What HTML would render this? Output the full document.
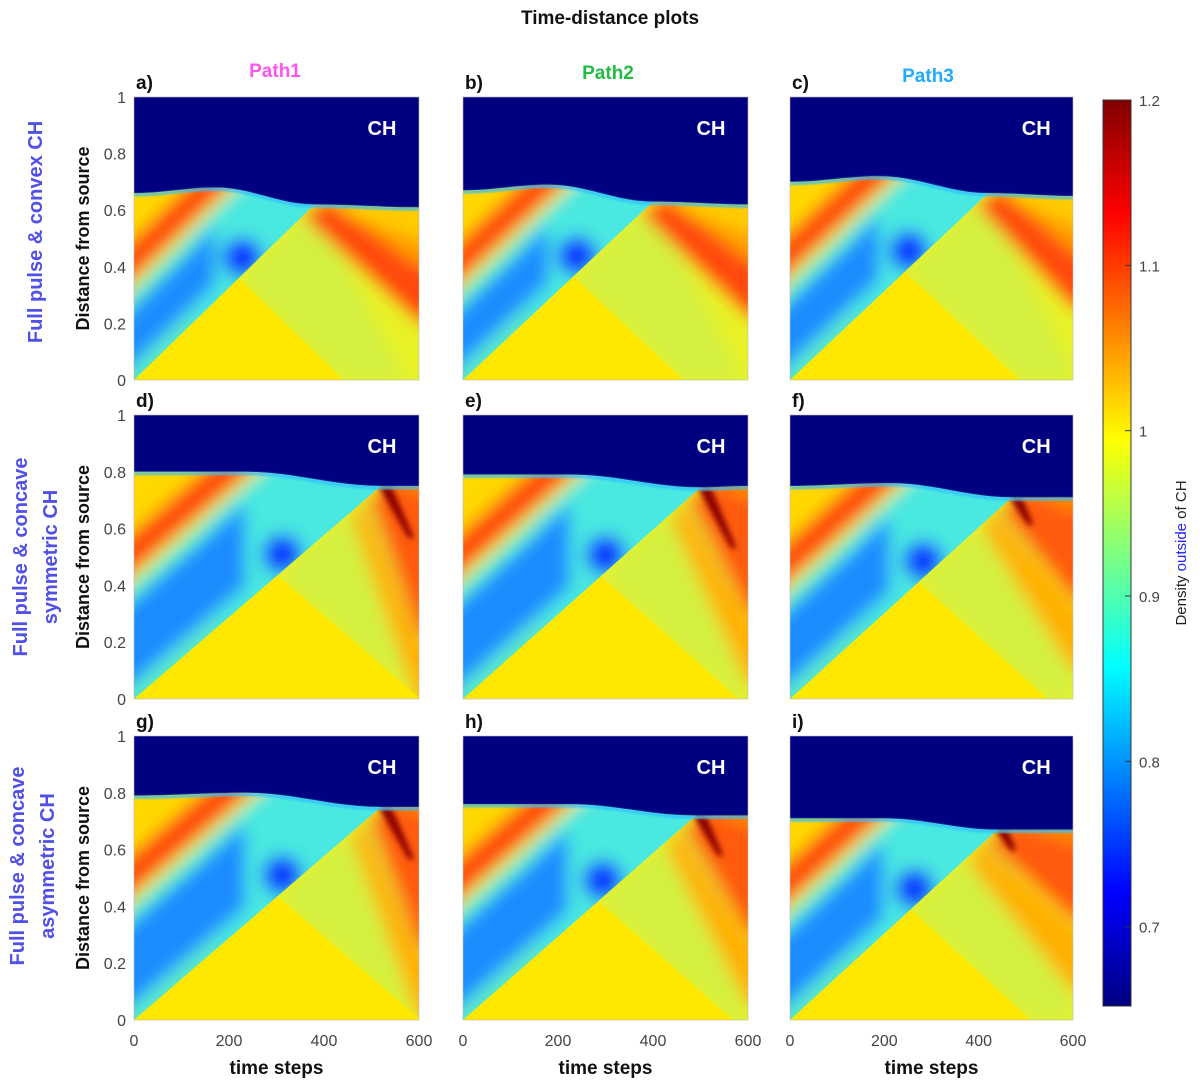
<!DOCTYPE html>
<html><head><meta charset="utf-8">
<style>
body{margin:0;background:#fff;}
svg text{font-family:"Liberation Sans",sans-serif;}
</style></head>
<body>
<svg id="fig" width="1200" height="1083" viewBox="0 0 1200 1083" xmlns="http://www.w3.org/2000/svg">
<defs>
<filter id="blur" x="-20%" y="-20%" width="140%" height="140%"><feGaussianBlur stdDeviation="8"/></filter>
<filter id="blurS" x="-20%" y="-20%" width="140%" height="140%"><feGaussianBlur stdDeviation="3"/></filter>
<filter id="blurE" x="-20%" y="-20%" width="140%" height="140%"><feGaussianBlur stdDeviation="1"/></filter>
<linearGradient id="jet" x1="0" y1="1" x2="0" y2="0">
<stop offset="0" stop-color="#000080"/><stop offset="0.125" stop-color="#0000ff"/>
<stop offset="0.375" stop-color="#00ffff"/><stop offset="0.625" stop-color="#ffff00"/>
<stop offset="0.875" stop-color="#ff0000"/><stop offset="1" stop-color="#800000"/>
</linearGradient>
</defs>
<text x="610" y="24" text-anchor="middle" font-size="19" font-weight="bold" fill="#111">Time-distance plots</text>
<text x="275" y="77" text-anchor="middle" font-size="19" font-weight="bold" fill="#ff55ee">Path1</text>
<text x="608" y="79" text-anchor="middle" font-size="19" font-weight="bold" fill="#22bb44">Path2</text>
<text x="928" y="82" text-anchor="middle" font-size="19" font-weight="bold" fill="#22aaff">Path3</text>
<text transform="translate(42,232) rotate(-90)" text-anchor="middle" font-size="20" font-weight="bold" fill="#5050e8">Full pulse &amp; convex CH</text>
<text transform="translate(27,557) rotate(-90)" text-anchor="middle" font-size="20" font-weight="bold" fill="#5050e8"><tspan x="0" y="0">Full pulse &amp; concave</tspan><tspan x="0" y="30">symmetric CH</tspan></text>
<text transform="translate(24,866) rotate(-90)" text-anchor="middle" font-size="20" font-weight="bold" fill="#5050e8"><tspan x="0" y="0">Full pulse &amp; concave</tspan><tspan x="0" y="30">asymmetric CH</tspan></text>
<g id="panels"></g>
<g id="cbar"></g>
</svg>
<script>
const NS='http://www.w3.org/2000/svg';
const panelIds=['a','b','c','d','e','f','g','h','i'];
const hLeft=[0.66,0.67,0.70,0.80,0.79,0.75,0.79,0.76,0.71];
const hBump=[0.68,0.69,0.72,0.80,0.79,0.76,0.80,0.76,0.71];
const hRight=[0.61,0.62,0.65,0.75,0.75,0.71,0.75,0.72,0.67];
const tCollide=[380,400,420,520,500,470,520,490,440];
const hCollide=[0.62,0.63,0.66,0.75,0.745,0.71,0.75,0.72,0.67];
const redU=[0.36,0.36,0.38,0.45,0.45,0.42,0.45,0.44,0.42];
const fanTop=[0.40,0.42,0.45,0.72,0.70,0.66,0.72,0.68,0.62];
const fanBottom=[0.20,0.22,0.25,0.22,0.30,0.35,0.25,0.30,0.35];
const streakLen=[0,0,0,80,90,40,80,60,30];
const xTicks=[0,200,400,600];
const yTicks=[0,0.2,0.4,0.6,0.8,1];
const cbTicks=[0.7,0.8,0.9,1,1.1,1.2];
const cbMin=0.652, cbMax=1.2;

const colX=[134,463,790], colW=[285,285,283];
const rowY=[97,415,736], rowH=[283,284,284];
const root=document.getElementById('panels');
function mk(tag,attrs,parent){const e=document.createElementNS(NS,tag);for(const k in attrs)e.setAttribute(k,attrs[k]);parent.appendChild(e);return e;}
function smooth(pts){const out=[];for(let k=0;k<pts.length-1;k++){const a=pts[k],b=pts[k+1];for(let j=0;j<12;j++){const f=j/12,g=(1-Math.cos(Math.PI*f))/2;out.push([a[0]+(b[0]-a[0])*f,a[1]+(b[1]-a[1])*g]);}}out.push(pts[pts.length-1]);return out;}

panelIds.forEach((id,i)=>{
  const c=i%3,r=Math.floor(i/3);
  const x0=colX[c],y0=rowY[r],w=colW[c],h=rowH[r];
  const X=t=>x0+t/600*w, Y=v=>y0+h-v*h;
  const P=pts=>pts.map(p=>X(p[0]).toFixed(1)+','+Y(p[1]).toFixed(1)).join(' ');
  const tc=tCollide[i],hc=hCollide[i],s=hc/tc,ta=0.58*tc;
  const bnd=smooth([[0,hLeft[i]],[0.45*tc,hBump[i]],[tc,hc],[600,hRight[i]]]);
  const bndL=bnd.filter(p=>p[0]<=tc);
  const bndR=bnd.filter(p=>p[0]>=tc);
  const g=mk('g',{},root);
  
  
  const cp=mk('clipPath',{id:'pc'+id},g);
  mk('rect',{x:x0,y:y0,width:w,height:h},cp);
  const cw=mk('clipPath',{id:'wc'+id},g);
  mk('polygon',{points:P([[0,0],[tc,hc]].concat(bndL.slice().reverse()))},cw);
  const cr=mk('clipPath',{id:'rc'+id},g);
  mk('polygon',{points:P([[ta,s*ta]].concat(bndR).concat([[600,0],[2*ta,0]]))},cr);
  const inner=mk('g',{'clip-path':'url(#pc'+id+')'},g);
  const bg=mk('rect',{x:x0,y:y0,width:w,height:h,fill:'#ffe800'},inner);
  
  
  // wake region
  const wg=mk('g',{'clip-path':'url(#wc'+id+')'},inner);
  
  
  const wb=mk('g',{filter:'url(#blur)'},wg);
  mk('rect',{x:x0-20,y:y0-20,width:w+40,height:h+40,fill:'#48e8e0'},wb);
  const ru=redU[i];
  const strip=(u1,u2,t1,t2,col)=>mk('polygon',{points:P([[t1,s*t1+u1],[t2,s*t2+u1],[t2,s*t2+u2],[t1,s*t1+u2]]),fill:col},wb);
  strip(-0.05,0.03,-50,0.35*tc,'#60e8c0');
  strip(0.06,ru-0.1,-50,0.45*tc,'#1a8cff');
  strip(ru-0.1,ru-0.04,-50,0.3*tc,'#50f0d0');
  strip(ru-0.04,ru,-50,tc,'#e8f030');
  strip(ru,ru+0.14,-50,tc,'#ff4a10');
  strip(ru+0.14,1.0,-50,tc,'#ffd800');
  mk('ellipse',{cx:X(0.6*tc),cy:Y(s*0.6*tc+0.06),rx:w*0.07,ry:h*0.07,fill:'#0a40ff'},wb);
  // reflected region
  const rg=mk('g',{'clip-path':'url(#rc'+id+')'},inner);
  
  
  const rb=mk('g',{filter:'url(#blur)'},rg);
  mk('rect',{x:x0-20,y:y0-20,width:w+40,height:h+40,fill:'#e8f228'},rb);
  mk('polygon',{points:P([[ta,s*ta],[tc,hc],[600,hc-s*(600-tc)-0.35],[600,0],[2*ta,0]]),fill:'#d4f040'},rb);
  const ft=fanTop[i], fb=fanBottom[i];
  const upper=r===0?'#ffcc00':'#ff8a00';
  mk('polygon',{points:P([[tc,hc+0.1],[660,hRight[i]+0.1],[660,ft-0.02],[600,ft-0.02],[tc+20,hc-0.02]]),fill:upper},rb);
  if(r===0){
    mk('polygon',{points:P([[tc+20,hc-0.01],[600,ft],[660,ft],[660,ft+0.1],[600,ft+0.1]]),fill:'#ffa000'},rb);
  }
  if(r>0){
    mk('polygon',{points:P([[tc-40,hc-0.04],[600,fb-0.02],[660,fb-0.02],[660,fb-0.25],[600,fb-0.25],[tc-60,hc-0.12]]),fill:'#ffb000'},rb);
  }
  mk('polygon',{points:P([[tc-25,hc-0.04],[tc+25,hc+0.02],[600,ft],[660,ft],[660,fb],[600,fb]]),fill:r===0?'#ff4a10':'#ff5a10'},rb);
  if(streakLen[i]>0){
    const sb=mk('g',{filter:'url(#blurS)'},rg);
    mk('polygon',{points:P([[tc-5,hc],[tc+10+streakLen[i]*0.6,hc-s*1.6*streakLen[i]],[tc+22+streakLen[i]*0.6,hc-s*1.6*streakLen[i]],[tc+22,hc]]),fill:'#8a0000'},sb);
  }
  // coronal hole
  const ch=mk('polygon',{points:P([[600,1],[0,1]].concat(bnd)),fill:'#000080'},inner);
  
  
  mk('polyline',{points:P(bnd.map(p=>[p[0],p[1]-0.006])),fill:'none',stroke:'#30c0ff',"stroke-width":2.5,filter:'url(#blurE)'},inner);
  mk('rect',{x:x0,y:y0,width:w,height:h,fill:'none',stroke:'#bbb','stroke-width':0.6},g);
  const cht=mk('text',{x:x0+w*0.87,y:y0+38,'text-anchor':'middle','font-size':20,'font-weight':'bold',fill:'#fff'},g);
  cht.textContent='CH';
  
  
  const pl=mk('text',{x:x0+2,y:y0-8,'font-size':19,'font-weight':'bold',fill:'#111'},g);
  pl.textContent=id+')';
  
  
  if(c===0){
    yTicks.forEach(v=>{
      const t=mk('text',{x:x0-8,y:Y(v)+6,'text-anchor':'end','font-size':16,fill:'#444'},g);
      t.textContent=String(v);
      
      
    });
    const yt=mk('text',{transform:`translate(${x0-45},${y0+h/2}) rotate(-90)`,'text-anchor':'middle','font-size':18,'font-weight':'bold',fill:'#111'},g);
    yt.textContent='Distance from source';
    
    
  }
  if(r===2){
    xTicks.forEach(v=>{
      const t=mk('text',{x:X(v),y:y0+h+26,'text-anchor':'middle','font-size':16,fill:'#444'},g);
      t.textContent=String(v);
      
      
    });
    const xt=mk('text',{x:x0+w/2,y:y0+h+54,'text-anchor':'middle','font-size':19,'font-weight':'bold',fill:'#111'},g);
    xt.textContent='time steps';
    
    
  }
});
// colorbar
const cb=document.getElementById('cbar');
const cbx=1103,cby=100,cbw=28,cbh=906;
const CY=v=>cby+cbh-(v-cbMin)/(cbMax-cbMin)*cbh;
const cr=mk('rect',{x:cbx,y:cby,width:cbw,height:cbh,fill:'url(#jet)',stroke:'#333','stroke-width':1},cb);


cbTicks.forEach(v=>{
  mk('line',{x1:cbx+cbw-6,x2:cbx+cbw,y1:CY(v),y2:CY(v),stroke:'#333'},cb);
  const t=mk('text',{x:cbx+cbw+8,y:CY(v)+6,'font-size':15,fill:'#444'},cb);
  t.textContent=String(v);
  
  
});
const cl=mk('text',{transform:'translate(1186,553) rotate(-90)','text-anchor':'middle','font-size':15,fill:'#222'},cb);
cl.innerHTML='Density <tspan fill="#2020ff">outside</tspan> of CH';


</script>
</body></html>
